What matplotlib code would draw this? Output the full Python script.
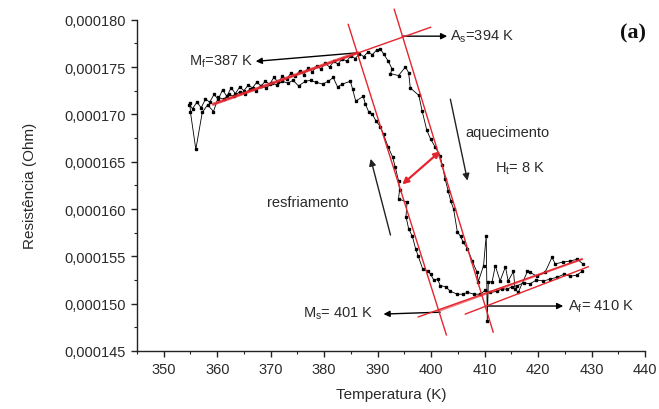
import numpy as np
import matplotlib
matplotlib.use("Agg")
import matplotlib.pyplot as plt
from matplotlib.ticker import FuncFormatter, MultipleLocator

plt.rcParams['font.family'] = ['Liberation Sans', 'DejaVu Sans']
plt.rcParams['mathtext.default'] = 'regular'

# Aquecimento (heating) branch: temperatura (K), resistencia (micro-Ohm)
T_heat = [354.8, 355.4, 356.2, 357.0, 357.8, 358.6, 359.4, 360.2, 361.0, 361.8,
          362.6, 363.4, 364.2, 365.0, 365.8, 366.6, 367.4, 368.2, 369.0, 369.8,
          370.6, 371.4, 372.2, 373.0, 373.8, 374.6, 375.4, 376.2, 377.0, 377.8,
          378.6, 379.4, 380.2, 381.0, 381.8, 382.6, 383.4, 384.2, 385.0, 385.8,
          386.6, 387.4, 388.2, 389.0, 389.8, 390.5, 391.1, 392.0, 392.7, 392.4,
          393.9, 395.2, 395.8, 396.1, 397.7, 398.3, 399.2, 399.9, 400.8, 401.7,
          402.1, 402.6, 403.2, 403.7, 404.2, 404.9, 405.5, 406.0, 406.8, 407.7,
          408.6, 408.8, 409.8, 410.3, 410.5, 410.7, 411.4, 412.0, 412.9, 413.9,
          414.4, 415.4, 415.7, 416.3, 418.0, 418.5, 419.8, 421.3, 422.6, 423.2,
          424.7, 426.0, 427.3, 428.4]
R_heat = [171.0, 170.6, 171.3, 170.7, 171.6, 171.3, 172.1, 171.6, 172.6, 171.9,
          172.8, 172.2, 172.9, 172.5, 173.1, 172.8, 173.4, 173.0, 173.5, 173.2,
          173.9, 173.4, 174.0, 173.7, 174.4, 174.0, 174.6, 174.2, 174.9, 174.5,
          175.1, 174.8, 175.4, 175.0, 175.6, 175.3, 175.9, 175.6, 176.2, 175.9,
          176.4, 176.1, 176.6, 176.3, 176.8, 176.9, 176.4, 175.6, 174.8, 174.3,
          174.1, 175.0, 174.4, 172.8, 172.0, 170.4, 168.3, 167.4, 166.5, 165.6,
          164.6, 163.2, 161.9, 160.8, 160.0, 157.6, 157.1, 156.5, 155.8, 154.5,
          153.3, 152.3, 154.0, 157.2, 148.2, 152.3, 152.3, 154.0, 152.4, 153.9,
          152.4, 153.4, 151.5, 151.2, 153.4, 153.3, 152.9, 153.3, 154.9, 154.2,
          154.4, 154.5, 154.7, 154.2]

# Resfriamento (cooling) branch
T_cool = [428.2, 427.2, 426.0, 424.8, 423.6, 422.3, 421.0, 419.7, 418.5, 417.3,
          416.1, 415.1, 414.2, 413.3, 412.4, 411.1, 410.1, 409.2, 408.0, 406.8,
          405.9, 404.9, 403.6, 402.7, 401.7, 401.2, 400.5, 399.9, 399.5, 398.4,
          397.6, 397.1, 396.5, 395.8, 395.3, 395.5, 393.9, 394.1, 393.9, 393.3,
          392.8, 392.0, 391.1, 390.5, 389.7, 389.0, 388.3, 387.7, 387.3, 385.9,
          385.3, 384.9, 383.4, 382.5, 381.7, 380.8, 379.7, 378.4, 377.5, 376.5,
          375.2, 374.2, 373.2, 372.2, 371.2, 370.2, 369.2, 368.2, 367.2, 366.2,
          365.2, 364.2, 363.2, 362.2, 361.2, 360.2, 359.3, 358.2, 357.2, 356.0,
          355.0, 354.9]
R_cool = [153.4, 153.0, 152.9, 153.1, 152.8, 152.6, 152.4, 152.5, 152.1, 152.2,
          151.9, 151.8, 151.5, 151.6, 151.3, 151.2, 151.4, 151.0, 151.0, 151.2,
          151.0, 151.0, 151.3, 151.8, 151.9, 152.6, 152.5, 153.1, 153.4, 153.7,
          155.0, 155.8, 157.1, 157.9, 159.2, 160.7, 161.1, 162.0, 163.0, 164.4,
          165.5, 166.5, 167.9, 168.7, 169.3, 170.0, 170.3, 171.1, 171.9, 171.4,
          172.7, 173.5, 173.2, 172.9, 173.9, 173.5, 173.2, 173.4, 173.6, 173.5,
          173.0, 173.6, 173.3, 173.5, 173.1, 173.3, 172.8, 173.0, 172.5, 172.7,
          172.2, 172.4, 171.9, 172.1, 171.6, 171.8, 170.3, 171.0, 170.2, 166.3,
          170.2, 171.2]

# Retas tangentes (T inicio, T fim), (R inicio, R fim)
tang_sup_T = [359.3, 399.9]
tang_sup_R = [171.08, 179.2]
esq_T = [384.5, 402.85]
esq_R = [179.5, 146.7]
dir_T = [393.1, 411.6]
dir_R = [181.1, 147.0]
inf1_T = [397.6, 428.2]
inf1_R = [148.6, 154.7]
inf2_T = [406.4, 429.4]
inf2_R = [148.9, 153.9]

RED = '#e3262e'
TXT = '#2a2a2a'
u = 1e-6

fig = plt.figure(figsize=(6.59, 4.10), dpi=100)
fig.patch.set_facecolor('white')
ax = fig.add_axes([0.2079, 0.1415, 0.7709, 0.808])

# Dados
ax.plot(T_heat, np.array(R_heat) * u, color='black', lw=0.6, marker='s', ms=1.9, zorder=3)
ax.plot(T_cool, np.array(R_cool) * u, color='black', lw=0.6, marker='s', ms=1.9, zorder=3)

# Retas de construcao
for tt, rr in [(tang_sup_T, tang_sup_R), (esq_T, esq_R), (dir_T, dir_R),
               (inf1_T, inf1_R), (inf2_T, inf2_R)]:
    ax.plot(tt, np.array(rr) * u, color=RED, lw=1.0, zorder=4, clip_on=False)
# trecho ajustado (mais grosso) sobre os dados
ax.plot([359.3, 386.2], [171.08 * u, 176.5 * u], color=RED, lw=2.2, alpha=0.75, zorder=4)
ax.plot([401.7, 428.2], [149.3 * u, 154.7 * u], color=RED, lw=1.6, alpha=0.6, zorder=4)

# Setas das temperaturas de transformacao
arrow_k = dict(arrowstyle='-|>', color='black', lw=1.0, mutation_scale=9, shrinkA=0, shrinkB=0)
ax.annotate('', xy=(367.2, 175.6 * u), xytext=(386.2, 176.5 * u), arrowprops=arrow_k)
ax.annotate('', xy=(403.0, 178.26 * u), xytext=(394.6, 178.26 * u), arrowprops=arrow_k,
            annotation_clip=False)
ax.annotate('', xy=(391.1, 148.9 * u), xytext=(401.7, 149.1 * u), arrowprops=arrow_k)
ax.annotate('', xy=(424.7, 149.75 * u), xytext=(410.5, 149.75 * u), arrowprops=arrow_k)

# Sentido do ciclo
arrow_l = dict(arrowstyle='-|>', color='#222222', lw=1.0, mutation_scale=10, shrinkA=0, shrinkB=0)
ax.annotate('', xy=(406.8, 163.0 * u), xytext=(403.6, 171.6 * u), arrowprops=arrow_l)
ax.annotate('', xy=(388.7, 165.3 * u), xytext=(392.4, 157.25 * u), arrowprops=arrow_l)

# Histerese
ax.annotate('', xy=(394.6, 162.6 * u), xytext=(401.7, 166.1 * u),
            arrowprops=dict(arrowstyle='<|-|>', color=RED, lw=1.6, mutation_scale=9,
                            shrinkA=0, shrinkB=0))

fs = 10.5
ax.text(366.8, 175.65 * u, 'M$_f$=387 K', ha='right', va='center', fontsize=fs, color=TXT)
ax.text(403.6, 178.3 * u, 'A$_s$=394 K', ha='left', va='center', fontsize=fs, color=TXT)
ax.text(389.2, 149.0 * u, 'M$_s$= 401 K', ha='right', va='center', fontsize=fs, color=TXT)
ax.text(425.6, 149.75 * u, 'A$_f$= 410 K', ha='left', va='center', fontsize=fs, color=TXT)
ax.text(406.4, 168.1 * u, 'aquecimento', ha='left', va='center', fontsize=fs, color=TXT)
ax.text(412.0, 164.4 * u, 'H$_t$= 8 K', ha='left', va='center', fontsize=fs, color=TXT)
ax.text(369.4, 160.7 * u, 'resfriamento', ha='left', va='center', fontsize=fs, color=TXT)
ax.text(437.8, 178.7 * u, '(a)', ha='center', va='center', fontsize=16, fontweight='bold',
        family=['Liberation Serif', 'DejaVu Serif'], color='#111111', clip_on=False)

# Eixos
ax.set_xlim(345, 440)
ax.set_ylim(145 * u, 180 * u)
ax.xaxis.set_major_locator(MultipleLocator(10))
ax.xaxis.set_minor_locator(MultipleLocator(5))
ax.yaxis.set_major_locator(MultipleLocator(5 * u))
ax.yaxis.set_minor_locator(MultipleLocator(2.5 * u))
ax.yaxis.set_major_formatter(FuncFormatter(lambda v, p: f"{v:.6f}".replace('.', ',')))

for side in ['top', 'right']:
    ax.spines[side].set_visible(False)
for side in ['left', 'bottom']:
    ax.spines[side].set_linewidth(1.0)
    ax.spines[side].set_color('#222222')

ax.tick_params(which='major', direction='out', length=4.5, width=1.0, colors='#222222',
               labelsize=10.5, labelcolor=TXT)
ax.tick_params(which='minor', direction='out', length=2.5, width=0.8, colors='#222222')

ax.set_xlabel('Temperatura (K)', fontsize=11, color=TXT, labelpad=8)
ax.set_ylabel('Resistência (Ohm)', fontsize=11, color=TXT, labelpad=20)

plt.savefig('out.png', dpi=100)
plt.close()
